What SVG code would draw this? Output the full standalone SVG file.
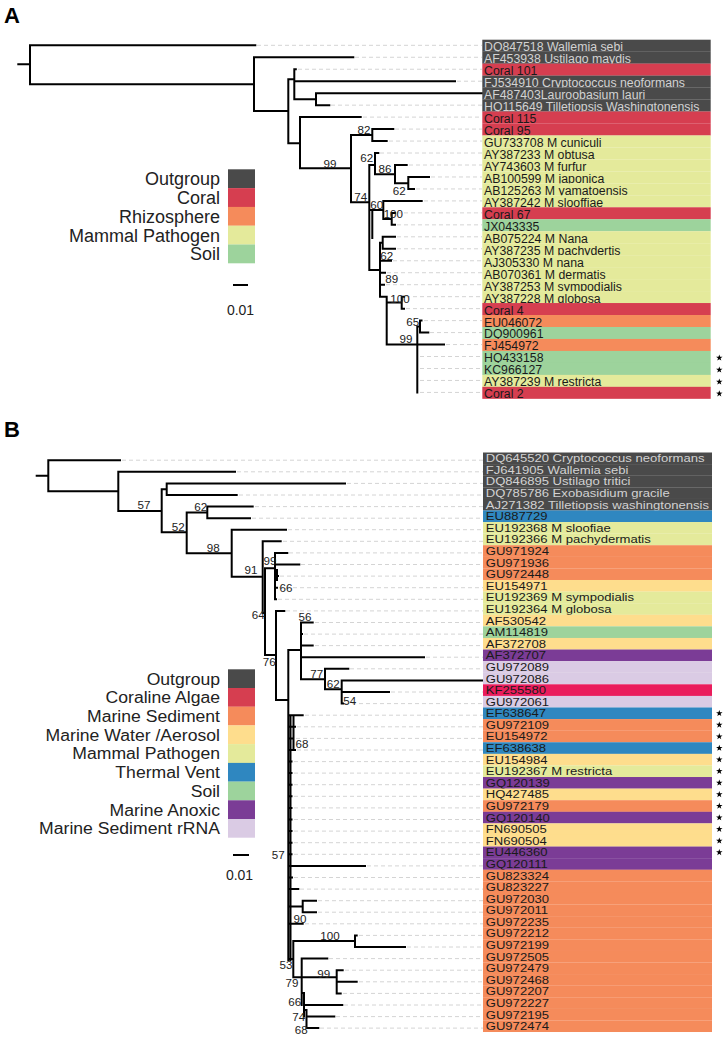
<svg xmlns="http://www.w3.org/2000/svg" width="728" height="1038" viewBox="0 0 728 1038">
<style>
.t{stroke:#000;stroke-width:2;fill:none;stroke-linecap:square}
.d{stroke:#d4d4d4;stroke-width:1;fill:none;stroke-dasharray:4 3}
text{font-family:"Liberation Sans",Arial,sans-serif}
.la{font-size:12.3px;fill:#1a1a1a}
.lb{font-size:13.1px;fill:#1a1a1a}
.w{fill:#d2d2d2}
.bs{font-size:11.6px;fill:#222;text-anchor:middle}
.lg{font-size:18px;fill:#222;text-anchor:end}
.lgb{font-size:17.6px;fill:#222;text-anchor:end}
.pl{font-size:22px;font-weight:bold;fill:#000}
.og{fill:#4a4a4a}.co{fill:#d63e50}.rh{fill:#f58b5b}.mp{fill:#e4ea9b}.so{fill:#9dd39c}
.mw{fill:#fedd8d}.tv{fill:#2f87c0}.ma{fill:#7b3c96}.rr{fill:#dacbe4}.ca{fill:#ea1c5c}
</style>
<defs>
<path id="star" d="M0,-3.4L0.79,-1.09L3.23,-1.05L1.28,0.42L2,2.75L0,1.35L-2,2.75L-1.28,0.42L-3.23,-1.05L-0.79,-1.09Z" fill="#000"/>
</defs>
<rect width="728" height="1038" fill="#fff"/>
<text class="pl" x="4" y="23">A</text>
<text class="pl" x="4" y="437">B</text>

<g id="legendA">
<rect class="og" x="228" y="169.3" width="27" height="18.9"/>
<rect class="co" x="228" y="188.1" width="27" height="18.9"/>
<rect class="rh" x="228" y="206.9" width="27" height="18.9"/>
<rect class="mp" x="228" y="225.7" width="27" height="18.9"/>
<rect class="so" x="228" y="244.5" width="27" height="18.8"/>
<text class="lg" x="220" y="185.2">Outgroup</text>
<text class="lg" x="220" y="204">Coral</text>
<text class="lg" x="220" y="222.8">Rhizosphere</text>
<text class="lg" x="220" y="241.6">Mammal Pathogen</text>
<text class="lg" x="220" y="260.3">Soil</text>
<path class="t" d="M234,285H247" stroke-width="1.5"/>
<text x="240.5" y="315" style="font-size:14px;fill:#222;text-anchor:middle">0.01</text>
</g>

<g id="legendB">
<rect class="og" x="228" y="669.3" width="27" height="18.8"/>
<rect class="co" x="228" y="688" width="27" height="18.8"/>
<rect class="rh" x="228" y="706.7" width="27" height="18.8"/>
<rect class="mw" x="228" y="725.4" width="27" height="18.8"/>
<rect class="mp" x="228" y="744.1" width="27" height="18.9"/>
<rect class="tv" x="228" y="762.9" width="27" height="18.8"/>
<rect class="so" x="228" y="781.6" width="27" height="18.8"/>
<rect class="ma" x="228" y="800.3" width="27" height="18.8"/>
<rect class="rr" x="228" y="819" width="27" height="18.7"/>
<text class="lgb" transform="translate(220,684.5) scale(1,0.92)">Outgroup</text>
<text class="lgb" transform="translate(220,703.2) scale(1,0.92)">Coraline Algae</text>
<text class="lgb" transform="translate(220,721.9) scale(1,0.92)">Marine Sediment</text>
<text class="lgb" transform="translate(220,740.6) scale(1,0.92)">Marine Water /Aerosol</text>
<text class="lgb" transform="translate(220,759.3) scale(1,0.92)">Mammal Pathogen</text>
<text class="lgb" transform="translate(220,778.1) scale(1,0.92)">Thermal Vent</text>
<text class="lgb" transform="translate(220,796.8) scale(1,0.92)">Soil</text>
<text class="lgb" transform="translate(220,815.5) scale(1,0.92)">Marine Anoxic</text>
<text class="lgb" transform="translate(220,834.2) scale(1,0.92)">Marine Sediment rRNA</text>
<path class="t" d="M234,855H248" stroke-width="1.5"/>
<text x="239.5" y="880" style="font-size:14px;fill:#222;text-anchor:middle">0.01</text>
</g>

<g id="connectors">
<path class="d" d="M257,45.3H482M355,57.27H482M298,69.24H482M457,81.21H482M331,105.15H482M363,117.12H482M395,129.09H482M389,141.06H482M380,153.03H482M409,165H482M431,176.97H482M416,188.94H482M424,200.91H482M397,212.88H482M397,224.85H482M397,236.82H482M397,248.79H482M393,260.76H482M387,272.73H482M386,284.7H482M406,296.67H482M406,308.64H482M424,320.61H482M430,332.58H482M446,344.55H482M420,356.52H482M420,368.49H482M420,380.46H482M420,392.43H482"/>
<path class="d" d="M122,460.2H483M237,471.8H483M347,483.4H483M239,495H483M255,506.6H483M252,518.2H483M288,529.7H483M283,541.3H483M289,552.9H483M301,564.5H483M280,576.1H483M279,587.7H483M278,599.3H483M286,610.9H483M315,622.5H483M304,634.1H483M315,645.6H483M426,657.2H483M350,668.8H483M391,692H483M345,703.6H483M305,715.2H483M297,726.8H483M296,738.4H483M297,750H483M294,761.6H483M294,773.1H483M294,784.7H483M294,796.3H483M294,807.9H483M294,819.5H483M294,831.1H483M294,842.7H483M294,854.3H483M367,865.9H483M294,877.5H483M300,889.1H483M318,900.7H483M318,912.2H483M305,923.8H483M359,935.4H483M407,947H483M329,958.6H483M345,970.2H483M359,981.8H483M343,993.4H483M344,1005H483M336,1016.6H483M320,1028.1H483"/>
<path class="t" d="M18.3,64.3H30M30,45.3V84.3M30,45.3H255.3M30,84.3H254M254,57.27V111M254,57.27H353.3M254,111H288.3M288.3,79.3V143.3M288.3,79.3H294.3M294.3,69.24V99.3M294.3,69.24H295.8M294.3,81.21H455M294.3,99.3H316M316,93.18V105.15M316,93.18H482M316,105.15H329.3M288.3,143.3H300M300,117.12V168.3M300,117.12H360.7M300,168.3H351M351,135V202.3M351,135H372.3M372.3,129.09V141.06M372.3,129.09H393.3M372.3,141.06H386.7M351,202.3H369.3M369.3,165V270M369.3,165H375M375,153.03V174.3M375,153.03H378.3M375,174.3H395M395,165V183.3M395,165H406.7M395,183.3H408.3M408.3,176.97V188.94M408.3,176.97H429M408.3,188.94H414M369.3,210H383.3M372.3,210V238M383.3,200.91V218.9M383.3,200.91H421.7M383.3,218.9H391.7M391.7,212.88V224.85M391.7,212.88H395M391.7,224.85H395M369.3,270H380M380,242.8V296.67M380,242.8H382.7M382.7,236.82V248.79M382.7,236.82H395M382.7,248.79H395M380,260.76H391M380,272.73H385M380,284.7H384M380,296.67H386.7M386.7,296.67V344.55M386.7,302.6H401.7M401.7,296.67V308.64M401.7,296.67H404M401.7,308.64H404M386.7,344.55H444M417.3,326.6V392.43M417.3,326.6H420M420,320.61V332.58M420,320.61H421.5M420,332.58H428.3"/>
<path class="t" d="M36.7,475.8H48.3M48.3,460.2V491.3M48.3,460.2H120M48.3,491.3H118.3M118.3,471.8V511M118.3,471.8H235M118.3,511H161.7M161.7,489.2V532.3M161.7,489.2H166.7M166.7,483.4V495M166.7,483.4H345M166.7,495H236.7M161.7,532.3H186.7M186.7,512.4V553.3M186.7,512.4H207.3M207.3,506.6V518.2M207.3,506.6H252.7M207.3,518.2H250M186.7,553.3H231.7M231.7,529.7V576.7M231.7,529.7H286M231.7,576.7H262.7M262.7,541.3V613M262.7,541.3H280.7M262.7,613H265M265,568.3V655M265,568.3H275M275,552.9V599.3M275,552.9H287.3M275,564.5H299.3M275,576.1H278M275,587.7H277M275,599.3H276M277,570V580M265,655H276M276,610.9V700M276,610.9H284.3M276,700H288.3M288.3,650V960M288.3,650H301M301,622.5V679.3M301,622.5H312.7M301,634.1H302M301,645.6H312.7M301,657.2H424M301,679.3H325M325,668.8V689.3M325,668.8H348.3M325,689.3H341.7M341.7,680.4V703.6M341.7,680.4H483M341.7,692H389M341.7,703.6H343M290.5,715.2V960M288.3,715.2H302.7M293.5,715.2V750M288.3,726.8H295M288.3,738.4H293.3M288.3,750H295M288.3,761.6H291.5M288.3,773.1H291.5M288.3,784.7H291.5M288.3,796.3H291.5M288.3,807.9H291.5M288.3,819.5H291.5M288.3,831.1H291.5M288.3,842.7H291.5M288.3,854.3H291.5M288.3,865.9H365M288.3,877.5H292M288.3,889.1H298.3M288.3,906.5H302.7M302.7,900.7V912.2M302.7,900.7H316M302.7,912.2H316M288.3,923.8H302.7M288.3,959H293.3M293.3,941V977.3M293.3,941H355M355,935.4V947M355,935.4H356.7M355,947H405M293.3,977.3H301.7M301.7,958.6V1005M301.7,958.6H327.3M301.7,977.3H336.7M336.7,970.2V993.4M336.7,970.2H342.7M336.7,981.8H356.7M336.7,993.4H340.7M301.7,993H304M304,993V1016.6M304,1005H342.3M304,1010H306.5M306.5,1010V1028.1M306.5,1016.6H334.3M306.5,1028.1H318.3"/>
</g>

<g id="bootstrapA">
<text class="bs" x="364" y="134.3">82</text>
<text class="bs" x="330" y="167.6">99</text>
<text class="bs" x="366.7" y="162">62</text>
<text class="bs" x="385" y="172.6">86</text>
<text class="bs" x="399.3" y="195">62</text>
<text class="bs" x="360.7" y="201">74</text>
<text class="bs" x="376.7" y="209.3">60</text>
<text class="bs" x="393.3" y="217.6">100</text>
<text class="bs" x="386.7" y="260.3">62</text>
<text class="bs" x="391.7" y="282.6">89</text>
<text class="bs" x="400" y="302.6">100</text>
<text class="bs" x="412.7" y="326">65</text>
<text class="bs" x="406" y="342.6">99</text>
</g>
<g id="bootstrapB">
<text class="bs" x="144" y="509.2">57</text>
<text class="bs" x="178.3" y="530.9">52</text>
<text class="bs" x="200.7" y="510.9">62</text>
<text class="bs" x="213.3" y="551.5">98</text>
<text class="bs" x="251" y="574.2">91</text>
<text class="bs" x="270" y="564.9">99</text>
<text class="bs" x="286" y="591.5">66</text>
<text class="bs" x="258.3" y="619.2">64</text>
<text class="bs" x="305" y="620.9">56</text>
<text class="bs" x="269.3" y="665.5">76</text>
<text class="bs" x="316.7" y="677.5">77</text>
<text class="bs" x="333.3" y="687.5">62</text>
<text class="bs" x="349.7" y="704.9">54</text>
<text class="bs" x="302" y="747.5">68</text>
<text class="bs" x="278.3" y="859.2">57</text>
<text class="bs" x="300" y="923.2">90</text>
<text class="bs" x="330" y="940.2">100</text>
<text class="bs" x="286" y="969.2">53</text>
<text class="bs" x="292" y="986.9">79</text>
<text class="bs" x="323.7" y="977.5">99</text>
<text class="bs" x="294.7" y="1005.9">66</text>
<text class="bs" x="298.7" y="1020.9">74</text>
<text class="bs" x="301.3" y="1033.5">68</text>
</g>

<g id="a1"><rect class="og" x="482.3" y="39.7" width="228.4" height="12.1"/><text class="la w" x="484" y="51.2">DQ847518 Wallemia sebi</text></g>
<g id="a2"><rect class="og" x="482.3" y="51.67" width="228.4" height="12.1"/><text class="la w" x="484" y="63.17">AF453938 Ustilago maydis</text></g>
<g id="a3"><rect class="co" x="482.3" y="63.64" width="228.4" height="12.1"/><text class="la" x="484" y="75.14">Coral 101</text></g>
<g id="a4"><rect class="og" x="482.3" y="75.61" width="228.4" height="12.1"/><text class="la w" x="484" y="87.11">FJ534910 Cryptococcus neoformans</text></g>
<g id="a5"><rect class="og" x="482.3" y="87.58" width="228.4" height="12.1"/><text class="la w" x="484" y="99.08">AF487403Lauroobasium lauri</text></g>
<g id="a6"><rect class="og" x="482.3" y="99.55" width="228.4" height="12.1"/><text class="la w" x="484" y="111.05">HQ115649 Tilletiopsis Washingtonensis</text></g>
<g id="a7"><rect class="co" x="482.3" y="111.52" width="228.4" height="12.1"/><text class="la" x="484" y="123.02">Coral 115</text></g>
<g id="a8"><rect class="co" x="482.3" y="123.49" width="228.4" height="12.1"/><text class="la" x="484" y="134.99">Coral 95</text></g>
<g id="a9"><rect class="mp" x="482.3" y="135.46" width="228.4" height="12.1"/><text class="la" x="484" y="146.96">GU733708 M cuniculi</text></g>
<g id="a10"><rect class="mp" x="482.3" y="147.43" width="228.4" height="12.1"/><text class="la" x="484" y="158.93">AY387233 M obtusa</text></g>
<g id="a11"><rect class="mp" x="482.3" y="159.4" width="228.4" height="12.1"/><text class="la" x="484" y="170.9">AY743603 M furfur</text></g>
<g id="a12"><rect class="mp" x="482.3" y="171.37" width="228.4" height="12.1"/><text class="la" x="484" y="182.87">AB100599 M japonica</text></g>
<g id="a13"><rect class="mp" x="482.3" y="183.34" width="228.4" height="12.1"/><text class="la" x="484" y="194.84">AB125263 M yamatoensis</text></g>
<g id="a14"><rect class="mp" x="482.3" y="195.31" width="228.4" height="12.1"/><text class="la" x="484" y="206.81">AY387242 M slooffiae</text></g>
<g id="a15"><rect class="co" x="482.3" y="207.28" width="228.4" height="12.1"/><text class="la" x="484" y="218.78">Coral 67</text></g>
<g id="a16"><rect class="so" x="482.3" y="219.25" width="228.4" height="12.1"/><text class="la" x="484" y="230.75">JX043335</text></g>
<g id="a17"><rect class="mp" x="482.3" y="231.22" width="228.4" height="12.1"/><text class="la" x="484" y="242.72">AB075224 M Nana</text></g>
<g id="a18"><rect class="mp" x="482.3" y="243.19" width="228.4" height="12.1"/><text class="la" x="484" y="254.69">AY387235 M pachydertis</text></g>
<g id="a19"><rect class="mp" x="482.3" y="255.16" width="228.4" height="12.1"/><text class="la" x="484" y="266.66">AJ305330 M nana</text></g>
<g id="a20"><rect class="mp" x="482.3" y="267.13" width="228.4" height="12.1"/><text class="la" x="484" y="278.63">AB070361 M dermatis</text></g>
<g id="a21"><rect class="mp" x="482.3" y="279.1" width="228.4" height="12.1"/><text class="la" x="484" y="290.6">AY387253 M sympodialis</text></g>
<g id="a22"><rect class="mp" x="482.3" y="291.07" width="228.4" height="12.1"/><text class="la" x="484" y="302.57">AY387228 M globosa</text></g>
<g id="a23"><rect class="co" x="482.3" y="303.04" width="228.4" height="12.1"/><text class="la" x="484" y="314.54">Coral 4</text></g>
<g id="a24"><rect class="rh" x="482.3" y="315.01" width="228.4" height="12.1"/><text class="la" x="484" y="326.51">EU046072</text></g>
<g id="a25"><rect class="so" x="482.3" y="326.98" width="228.4" height="12.1"/><text class="la" x="484" y="338.48">DQ900961</text></g>
<g id="a26"><rect class="rh" x="482.3" y="338.95" width="228.4" height="12.1"/><text class="la" x="484" y="350.45">FJ454972</text></g>
<g id="a27"><rect class="so" x="482.3" y="350.92" width="228.4" height="12.1"/><text class="la" x="484" y="362.42">HQ433158</text><use href="#star" x="719.3" y="357.8"/></g>
<g id="a28"><rect class="so" x="482.3" y="362.89" width="228.4" height="12.1"/><text class="la" x="484" y="374.39">KC966127</text><use href="#star" x="719.3" y="369.8"/></g>
<g id="a29"><rect class="mp" x="482.3" y="374.86" width="228.4" height="12.1"/><text class="la" x="484" y="386.36">AY387239 M restricta</text><use href="#star" x="719.3" y="381.8"/></g>
<g id="a30"><rect class="co" x="482.3" y="386.83" width="228.4" height="12"/><text class="la" x="484" y="398.33">Coral 2</text><use href="#star" x="719.3" y="393.7"/></g>

<g id="b1"><rect class="og" x="483" y="452.5" width="229" height="11.7"/><text class="lb w" transform="translate(485.7,462.3) scale(1,0.86)">DQ645520 Cryptococcus neoformans</text></g>
<g id="b2"><rect class="og" x="483" y="464.09" width="229" height="11.7"/><text class="lb w" transform="translate(485.7,473.89) scale(1,0.86)">FJ641905 Wallemia sebi</text></g>
<g id="b3"><rect class="og" x="483" y="475.68" width="229" height="11.7"/><text class="lb w" transform="translate(485.7,485.48) scale(1,0.86)">DQ846895 Ustilago tritici</text></g>
<g id="b4"><rect class="og" x="483" y="487.27" width="229" height="11.7"/><text class="lb w" transform="translate(485.7,497.07) scale(1,0.86)">DQ785786 Exobasidium gracile</text></g>
<g id="b5"><rect class="og" x="483" y="498.86" width="229" height="11.7"/><text class="lb w" transform="translate(485.7,508.66) scale(1,0.86)">AJ271382 Tilletiopsis washingtonensis</text></g>
<g id="b6"><rect class="tv" x="483" y="510.45" width="229" height="11.7"/><text class="lb" transform="translate(485.7,520.25) scale(1,0.86)">EU887729</text></g>
<g id="b7"><rect class="mp" x="483" y="522.04" width="229" height="11.7"/><text class="lb" transform="translate(485.7,531.84) scale(1,0.86)">EU192368 M sloofiae</text></g>
<g id="b8"><rect class="mp" x="483" y="533.63" width="229" height="11.7"/><text class="lb" transform="translate(485.7,543.43) scale(1,0.86)">EU192366 M pachydermatis</text></g>
<g id="b9"><rect class="rh" x="483" y="545.22" width="229" height="11.7"/><text class="lb" transform="translate(485.7,555.02) scale(1,0.86)">GU971924</text></g>
<g id="b10"><rect class="rh" x="483" y="556.81" width="229" height="11.7"/><text class="lb" transform="translate(485.7,566.61) scale(1,0.86)">GU971936</text></g>
<g id="b11"><rect class="rh" x="483" y="568.4" width="229" height="11.7"/><text class="lb" transform="translate(485.7,578.2) scale(1,0.86)">GU972448</text></g>
<g id="b12"><rect class="mw" x="483" y="579.99" width="229" height="11.7"/><text class="lb" transform="translate(485.7,589.79) scale(1,0.86)">EU154971</text></g>
<g id="b13"><rect class="mp" x="483" y="591.58" width="229" height="11.7"/><text class="lb" transform="translate(485.7,601.38) scale(1,0.86)">EU192369 M sympodialis</text></g>
<g id="b14"><rect class="mp" x="483" y="603.17" width="229" height="11.7"/><text class="lb" transform="translate(485.7,612.97) scale(1,0.86)">EU192364 M globosa</text></g>
<g id="b15"><rect class="mw" x="483" y="614.76" width="229" height="11.7"/><text class="lb" transform="translate(485.7,624.56) scale(1,0.86)">AF530542</text></g>
<g id="b16"><rect class="so" x="483" y="626.35" width="229" height="11.7"/><text class="lb" transform="translate(485.7,636.15) scale(1,0.86)">AM114819</text></g>
<g id="b17"><rect class="mw" x="483" y="637.94" width="229" height="11.7"/><text class="lb" transform="translate(485.7,647.74) scale(1,0.86)">AF372708</text></g>
<g id="b18"><rect class="ma" x="483" y="649.53" width="229" height="11.7"/><text class="lb" transform="translate(485.7,659.33) scale(1,0.86)">AF372707</text></g>
<g id="b19"><rect class="rr" x="483" y="661.12" width="229" height="11.7"/><text class="lb" transform="translate(485.7,670.92) scale(1,0.86)">GU972089</text></g>
<g id="b20"><rect class="rr" x="483" y="672.71" width="229" height="11.7"/><text class="lb" transform="translate(485.7,682.51) scale(1,0.86)">GU972086</text></g>
<g id="b21"><rect class="ca" x="483" y="684.3" width="229" height="11.7"/><text class="lb" transform="translate(485.7,694.1) scale(1,0.86)">KF255580</text></g>
<g id="b22"><rect class="rr" x="483" y="695.89" width="229" height="11.7"/><text class="lb" transform="translate(485.7,705.69) scale(1,0.86)">GU972061</text></g>
<g id="b23"><rect class="tv" x="483" y="707.48" width="229" height="11.7"/><text class="lb" transform="translate(485.7,717.28) scale(1,0.86)">EF638647</text><use href="#star" x="719.3" y="713.3"/></g>
<g id="b24"><rect class="rh" x="483" y="719.07" width="229" height="11.7"/><text class="lb" transform="translate(485.7,728.87) scale(1,0.86)">GU972109</text><use href="#star" x="719.3" y="724.9"/></g>
<g id="b25"><rect class="rh" x="483" y="730.66" width="229" height="11.7"/><text class="lb" transform="translate(485.7,740.46) scale(1,0.86)">EU154972</text><use href="#star" x="719.3" y="736.5"/></g>
<g id="b26"><rect class="tv" x="483" y="742.25" width="229" height="11.7"/><text class="lb" transform="translate(485.7,752.05) scale(1,0.86)">EF638638</text><use href="#star" x="719.3" y="748.1"/></g>
<g id="b27"><rect class="mw" x="483" y="753.84" width="229" height="11.7"/><text class="lb" transform="translate(485.7,763.64) scale(1,0.86)">EU154984</text><use href="#star" x="719.3" y="759.6"/></g>
<g id="b28"><rect class="mp" x="483" y="765.43" width="229" height="11.7"/><text class="lb" transform="translate(485.7,775.23) scale(1,0.86)">EU192367 M restricta</text><use href="#star" x="719.3" y="771.2"/></g>
<g id="b29"><rect class="ma" x="483" y="777.02" width="229" height="11.7"/><text class="lb" transform="translate(485.7,786.82) scale(1,0.86)">GQ120139</text><use href="#star" x="719.3" y="782.8"/></g>
<g id="b30"><rect class="mw" x="483" y="788.61" width="229" height="11.7"/><text class="lb" transform="translate(485.7,798.41) scale(1,0.86)">HQ427485</text><use href="#star" x="719.3" y="794.4"/></g>
<g id="b31"><rect class="rh" x="483" y="800.2" width="229" height="11.7"/><text class="lb" transform="translate(485.7,810) scale(1,0.86)">GU972179</text><use href="#star" x="719.3" y="806"/></g>
<g id="b32"><rect class="ma" x="483" y="811.79" width="229" height="11.7"/><text class="lb" transform="translate(485.7,821.59) scale(1,0.86)">GQ120140</text><use href="#star" x="719.3" y="817.6"/></g>
<g id="b33"><rect class="mw" x="483" y="823.38" width="229" height="11.7"/><text class="lb" transform="translate(485.7,833.18) scale(1,0.86)">FN690505</text><use href="#star" x="719.3" y="829.2"/></g>
<g id="b34"><rect class="mw" x="483" y="834.97" width="229" height="11.7"/><text class="lb" transform="translate(485.7,844.77) scale(1,0.86)">FN690504</text><use href="#star" x="719.3" y="840.8"/></g>
<g id="b35"><rect class="ma" x="483" y="846.56" width="229" height="11.7"/><text class="lb" transform="translate(485.7,856.36) scale(1,0.86)">EU446360</text><use href="#star" x="719.3" y="852.4"/></g>
<g id="b36"><rect class="ma" x="483" y="858.15" width="229" height="11.7"/><text class="lb" transform="translate(485.7,867.95) scale(1,0.86)">GQ120111</text></g>
<g id="b37"><rect class="rh" x="483" y="869.74" width="229" height="11.7"/><text class="lb" transform="translate(485.7,879.54) scale(1,0.86)">GU823324</text></g>
<g id="b38"><rect class="rh" x="483" y="881.33" width="229" height="11.7"/><text class="lb" transform="translate(485.7,891.13) scale(1,0.86)">GU823227</text></g>
<g id="b39"><rect class="rh" x="483" y="892.92" width="229" height="11.7"/><text class="lb" transform="translate(485.7,902.72) scale(1,0.86)">GU972030</text></g>
<g id="b40"><rect class="rh" x="483" y="904.51" width="229" height="11.7"/><text class="lb" transform="translate(485.7,914.31) scale(1,0.86)">GU972011</text></g>
<g id="b41"><rect class="rh" x="483" y="916.1" width="229" height="11.7"/><text class="lb" transform="translate(485.7,925.9) scale(1,0.86)">GU972235</text></g>
<g id="b42"><rect class="rh" x="483" y="927.69" width="229" height="11.7"/><text class="lb" transform="translate(485.7,937.49) scale(1,0.86)">GU972212</text></g>
<g id="b43"><rect class="rh" x="483" y="939.28" width="229" height="11.7"/><text class="lb" transform="translate(485.7,949.08) scale(1,0.86)">GU972199</text></g>
<g id="b44"><rect class="rh" x="483" y="950.87" width="229" height="11.7"/><text class="lb" transform="translate(485.7,960.67) scale(1,0.86)">GU972505</text></g>
<g id="b45"><rect class="rh" x="483" y="962.46" width="229" height="11.7"/><text class="lb" transform="translate(485.7,972.26) scale(1,0.86)">GU972479</text></g>
<g id="b46"><rect class="rh" x="483" y="974.05" width="229" height="11.7"/><text class="lb" transform="translate(485.7,983.85) scale(1,0.86)">GU972468</text></g>
<g id="b47"><rect class="rh" x="483" y="985.64" width="229" height="11.7"/><text class="lb" transform="translate(485.7,995.44) scale(1,0.86)">GU972207</text></g>
<g id="b48"><rect class="rh" x="483" y="997.23" width="229" height="11.7"/><text class="lb" transform="translate(485.7,1007.03) scale(1,0.86)">GU972227</text></g>
<g id="b49"><rect class="rh" x="483" y="1008.82" width="229" height="11.7"/><text class="lb" transform="translate(485.7,1018.62) scale(1,0.86)">GU972195</text></g>
<g id="b50"><rect class="rh" x="483" y="1020.41" width="229" height="11.6"/><text class="lb" transform="translate(485.7,1030.21) scale(1,0.86)">GU972474</text></g>
</svg>
